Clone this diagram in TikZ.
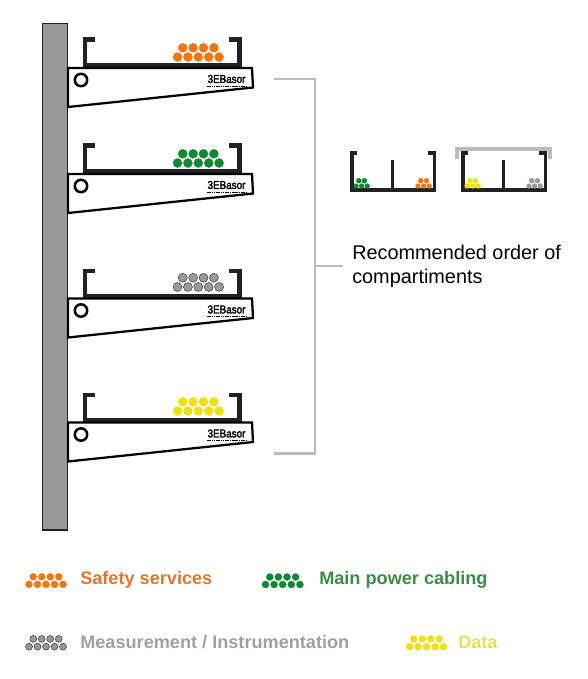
\documentclass[tikz,border=0pt]{standalone}
\usepackage{fontspec}
\setmainfont{Liberation Sans}
\newfontfamily\logofont[FakeBold=2.5]{Liberation Sans}
\definecolor{ink}{HTML}{222222}
\definecolor{wallgray}{HTML}{999999}
\definecolor{linkgray}{HTML}{BBBBBB}
\definecolor{cOrange}{HTML}{EE7711}
\definecolor{cGreen}{HTML}{118833}
\definecolor{cGray}{HTML}{999999}
\definecolor{cYellow}{HTML}{EEE011}
\definecolor{tOrange}{HTML}{DD7733}
\definecolor{tGreen}{HTML}{3D8B4A}
\definecolor{tGray}{HTML}{A0A0A0}
\definecolor{tYellow}{HTML}{E8E058}
\tikzset{
  x=0.75pt,y=-0.75pt,
  trayline/.style={draw=ink,line width=3.6pt,miter limit=10},
  smalltray/.style={draw=ink,line width=2.3pt},
  bracketbody/.style={draw=black,line width=1.7pt,fill=white,line join=miter},
  linkline/.style={draw=linkgray,line width=2pt},
  coverline/.style={draw=linkgray,line width=2.5pt},
  bigfont/.style={font=\fontsize{14.9pt}{17.6pt}\selectfont,anchor=north west,align=left,inner sep=0pt,text=black},
  legendtext/.style={font=\fontsize{13.6pt}{16pt}\selectfont\bfseries,anchor=west,inner sep=0pt},
}
% rows of cables: #1 x of first lower dot, #2 lower y, #3 pitch, #4 dy, #5 radius, #6 fill, #7 outline
\newcommand{\cablesFive}[7]{%
  \foreach \i in {0,...,3}{\fill[#6,draw=#7,line width=.3pt] ({#1+(\i+.5)*#3},{#2-#4}) circle ({#5});}
  \foreach \i in {0,...,4}{\fill[#6,draw=#7,line width=.3pt] ({#1+\i*#3},{#2}) circle ({#5});}}
\newcommand{\cablesThree}[7]{%
  \foreach \i in {0,1}{\fill[#6] ({#1+(\i+.5)*#3},{#2-#4}) circle ({#5});}
  \foreach \i in {0,1,2}{\fill[#6] ({#1+\i*#3},{#2}) circle ({#5});}}
% #1 body offset, #2 tray offset
\newcommand{\bracketUnit}[2]{%
  \begin{scope}[yshift={-0.75pt*(#2)}]
   \path[trayline] (95,39.5) -- (85,39.5) -- (85,65) -- (239.5,65) -- (239.5,39.5) -- (229,39.5);
   \fill[ink] (83,62.5) rectangle (242,68);
  \end{scope}
  \begin{scope}[yshift={-0.75pt*(#1)}]
   \path[bracketbody] (68,68) -- (252,68) -- (253,87.5) -- (68,107) -- cycle;
   \draw[black,line width=1.9pt,fill=white] (81,80) circle (6.2);
   \node[inner sep=0pt,yscale=1.15,font=\fontsize{7.4pt}{7pt}\logofont,text=black] (logo#1) at (226.5,79) {3EBasor};
   \draw[black,line width=.8pt,dash pattern=on 1.2pt off .5pt] (207,86.3) -- (246,86.3);
  \end{scope}}
\begin{document}
\begin{tikzpicture}
\useasboundingbox (0,0) rectangle (587,679);
% wall
\draw[fill=wallgray,draw=ink,line width=.9pt] (42.5,23.5) rectangle (67.5,530);
% brackets
\bracketUnit{0}{0}
\bracketUnit{106}{106}
\bracketUnit{230.5}{231.5}
\bracketUnit{354.5}{355.5}
\cablesFive{177.5}{57}{10.4}{9.2}{4.5}{cOrange}{cOrange}
\cablesFive{177.5}{163}{10.4}{9.2}{4.5}{cGreen}{cGreen}
\cablesFive{177.5}{287}{10.4}{9.2}{4.5}{cGray}{ink}
\cablesFive{177.5}{411}{10.4}{9.2}{4.5}{cYellow}{cYellow}
% link
\coordinate (la) at (274,79);
\coordinate (lb) at (315,79);
\coordinate (lc) at (315,453.5);
\coordinate (ld) at (274,453.5);
\coordinate (le) at (315,266);
\coordinate (lf) at (343,266);
\path[linkline] (la) -- (lb) -- (lc) -- (ld);
\path[linkline] (le) -- (lf);
% small trays
\path[smalltray] (357,153) -- (352,153) -- (352,190) -- (434.5,190) -- (434.5,153) -- (428,153);
\path[smalltray] (392.5,160) -- (392.5,190);
\path[smalltray] (468,153) -- (463,153) -- (463,190) -- (545.5,190) -- (545.5,153) -- (539,153);
\path[smalltray] (503.5,160) -- (503.5,190);
\path[coverline] (457,159) -- (457,149) -- (550,149) -- (550,159);
\cablesThree{356}{186}{5.6}{5.3}{2.7}{cGreen}{cGreen}
\cablesThree{418}{186}{5.6}{5.3}{2.7}{cOrange}{cOrange}
\cablesThree{467}{186}{5.6}{5.3}{2.7}{cYellow}{cYellow}
\cablesThree{529}{186}{5.6}{5.3}{2.7}{cGray}{cGray}
% caption
\node[bigfont] (cap) at (352,245) {Recommended order of\\compartiments};
% legend
\cablesFive{29}{584.3}{8.5}{7.5}{3.5}{cOrange}{cOrange}
\cablesFive{265.5}{584.5}{8.6}{7.5}{3.5}{cGreen}{cGreen}
\cablesFive{29}{646.7}{8.5}{7.8}{3.5}{cGray}{ink}
\cablesFive{409.5}{646.7}{8.5}{7.8}{3.5}{cYellow}{cYellow}
\node[legendtext,text=tOrange] (l1) at (80,580) {Safety services};
\node[legendtext,text=tGreen] (l2) at (319,580) {Main power cabling};
\node[legendtext,text=tGray] (l3) at (80,642.5) {Measurement / Instrumentation};
\node[legendtext,text=tYellow] (l4) at (458,642.5) {Data};
\end{tikzpicture}
\end{document}
